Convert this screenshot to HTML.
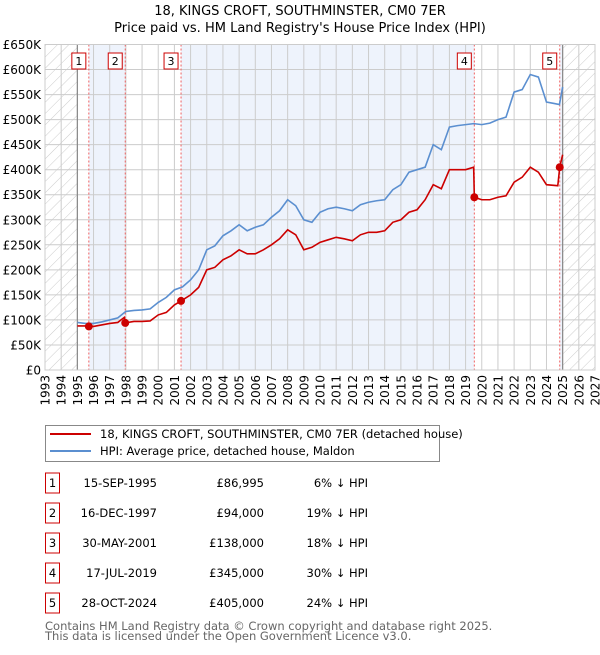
<!DOCTYPE html>
<html><head><meta charset="utf-8"><style>
body{margin:0;background:#fff;width:600px;height:650px;overflow:hidden;font-family:"Liberation Sans","DejaVu Sans",sans-serif}
text{font-family:"DejaVu Sans","Liberation Sans",sans-serif}
</style></head><body>
<svg id="chart" width="600" height="650" xmlns="http://www.w3.org/2000/svg">
<defs><pattern id="hatch" width="8" height="8" patternUnits="userSpaceOnUse" patternTransform="rotate(45)"><line x1="0" y1="0" x2="0" y2="8" stroke="#ccc" stroke-width="1"/></pattern></defs>
<text x="300" y="15" text-anchor="middle" font-size="13">18, KINGS CROFT, SOUTHMINSTER, CM0 7ER</text>
<text x="300" y="32" text-anchor="middle" font-size="13">Price paid vs. HM Land Registry's House Price Index (HPI)</text>
<g id="plot"></g>
<g>
<rect x="45.5" y="425.5" width="394" height="36" fill="#fff" stroke="#888"/>
<line x1="50" y1="434" x2="91" y2="434" stroke="#cc0000" stroke-width="2"/>
<text x="100" y="438" font-size="11.5">18, KINGS CROFT, SOUTHMINSTER, CM0 7ER (detached house)</text>
<line x1="50" y1="451" x2="91" y2="451" stroke="#5b8fd0" stroke-width="2"/>
<text x="100" y="455" font-size="11.5">HPI: Average price, detached house, Maldon</text>
</g>
<g id="table" font-size="11.5"></g>
<text x="45" y="630" font-size="11.5" fill="#666">Contains HM Land Registry data © Crown copyright and database right 2025.</text>
<text x="45" y="640" font-size="11.5" fill="#666">This data is licensed under the Open Government Licence v3.0.</text>
</svg>
<script>
const hpiYears=[1995,1995.5,1996,1996.5,1997,1997.5,1998,1998.5,1999,1999.5,2000,2000.5,2001,2001.5,2002,2002.5,2003,2003.5,2004,2004.5,2005,2005.5,2006,2006.5,2007,2007.5,2008,2008.5,2009,2009.5,2010,2010.5,2011,2011.5,2012,2012.5,2013,2013.5,2014,2014.5,2015,2015.5,2016,2016.5,2017,2017.5,2018,2018.5,2019,2019.5,2020,2020.5,2021,2021.5,2022,2022.5,2023,2023.5,2024,2024.5,2024.8,2025];
const hpiValues=[95,93,93,96,100,104,117,119,120,122,135,145,160,166,180,200,240,248,268,278,290,278,285,290,305,318,340,328,300,295,315,322,325,322,318,330,335,338,340,360,370,395,400,405,450,440,485,488,490,492,490,493,500,505,555,560,590,585,535,532,530,565];
const priceYears=[1995,1995.5,1995.71,1996,1996.5,1997,1997.5,1997.9,1997.96,1998.5,1999,1999.5,2000,2000.5,2001,2001.41,2002,2002.5,2003,2003.5,2004,2004.5,2005,2005.5,2006,2006.5,2007,2007.5,2008,2008.5,2009,2009.5,2010,2010.5,2011,2011.5,2012,2012.5,2013,2013.5,2014,2014.5,2015,2015.5,2016,2016.5,2017,2017.5,2018,2018.5,2019,2019.5,2019.54,2020,2020.5,2021,2021.5,2022,2022.5,2023,2023.5,2024,2024.7,2024.82,2025];
const priceValues=[88,88,87,87,90,93,95,105,94,97,97,98,110,115,130,138,150,165,200,205,220,228,240,232,232,240,250,262,280,270,240,245,255,260,265,262,258,270,275,275,278,295,300,315,320,340,370,362,400,400,400,405,345,340,340,345,348,375,385,405,395,370,368,405,430];
const saleLabels=["1","2","3","4","5"];
const saleYears=[1995.71,1997.96,2001.41,2019.54,2024.82];
const salePrices=[86995,94000,138000,345000,405000];
const saleDates=["15-SEP-1995","16-DEC-1997","30-MAY-2001","17-JUL-2019","28-OCT-2024"];
const salePriceText=["£86,995","£94,000","£138,000","£345,000","£405,000"];
const saleHpiText=["6% ↓ HPI","19% ↓ HPI","18% ↓ HPI","30% ↓ HPI","24% ↓ HPI"];
const yTicks=[0,50,100,150,200,250,300,350,400,450,500,550,600,650];
const yTickLabels=["£0","£50K","£100K","£150K","£200K","£250K","£300K","£350K","£400K","£450K","£500K","£550K","£600K","£650K"];
const xTicks=[1993,1994,1995,1996,1997,1998,1999,2000,2001,2002,2003,2004,2005,2006,2007,2008,2009,2010,2011,2012,2013,2014,2015,2016,2017,2018,2019,2020,2021,2022,2023,2024,2025,2026,2027];

const X0=45,X1=595,Y0=370,Y1=44.5;
const xs=y=>X0+(y-1993)/(2027-1993)*(X1-X0);
const ys=v=>Y0-v/650*(Y0-Y1);
const NS="http://www.w3.org/2000/svg";
const plot=document.getElementById('plot');
function mk(tag,attrs,parent){const e=document.createElementNS(NS,tag);for(const k in attrs)e.setAttribute(k,attrs[k]);(parent||plot).appendChild(e);return e;}
// shaded bands
const bandEdges=[saleYears[0],saleYears[1],saleYears[2],saleYears[3],saleYears[4],2025];
for(let i=0;i<bandEdges.length-1;i+=2){
 const r=mk('rect',{x:xs(bandEdges[i]),y:Y1,width:xs(bandEdges[i+1])-xs(bandEdges[i]),height:Y0-Y1,fill:'#eef3fc'});
 
 
}
// hatch
const h1=mk('rect',{x:xs(1993),y:Y1,width:xs(1995)-xs(1993),height:Y0-Y1,fill:'url(#hatch)'});


const h2=mk('rect',{x:xs(2025),y:Y1,width:xs(2027)-xs(2025),height:Y0-Y1,fill:'url(#hatch)'});


// grid
yTicks.forEach((t,i)=>{
 const l=mk('line',{x1:X0,x2:X1,y1:ys(t),y2:ys(t),stroke:'#ccc','stroke-width':1});
 
 
 const tx=mk('text',{x:X0-4,y:ys(t)+4.5,'text-anchor':'end','font-size':12});
 tx.textContent=yTickLabels[i];
 
 
});
xTicks.forEach(t=>{
 const l=mk('line',{x1:xs(t),x2:xs(t),y1:Y1,y2:Y0,stroke:'#ccc','stroke-width':1});
 
 
 const tx=mk('text',{x:0,y:0,'text-anchor':'end','font-size':12,transform:`translate(${xs(t)+4.5},${Y0+5}) rotate(-90)`});
 tx.textContent=t;
 
 
});
[1995,2025].forEach(t=>{
 const l=mk('line',{x1:xs(t),x2:xs(t),y1:Y1,y2:Y0,stroke:'#888','stroke-width':1.2});
 
 
});
// sale lines
saleYears.forEach((s,i)=>{
 const l=mk('line',{x1:xs(s),x2:xs(s),y1:Y1,y2:Y0,stroke:'#f06060','stroke-width':1,'stroke-dasharray':'2,2'});
 
 
});
// series
const hp=mk('polyline',{points:hpiYears.map((y,i)=>xs(y)+','+ys(hpiValues[i])).join(' '),fill:'none',stroke:'#5b8fd0','stroke-width':1.6});


const pp=mk('polyline',{points:priceYears.map((y,i)=>xs(y)+','+ys(priceValues[i])).join(' '),fill:'none',stroke:'#cc0000','stroke-width':1.6});


saleYears.forEach((s,i)=>{
 const c=mk('circle',{cx:xs(s),cy:ys(salePrices[i]/1000),r:4,fill:'#cc0000'});
 
 
 const b=mk('rect',{x:xs(s)-17,y:53,width:14,height:16,fill:'#fff',stroke:'#cc0000'});
 
 
 const t=mk('text',{x:xs(s)-10,y:65,'text-anchor':'middle','font-size':11});
 t.textContent=saleLabels[i];
 
 
});
const fr=mk('rect',{x:X0,y:Y1,width:X1-X0,height:Y0-Y1,fill:'none',stroke:'#ccc'});


// table
const tb=document.getElementById('table');
saleLabels.forEach((lab,i)=>{
 const cy=483+i*30;
 const g=mk('g',{},tb);
 
 
 mk('rect',{x:45.5,y:cy-10,width:14,height:20,fill:'#fff',stroke:'#cc0000'},g);
 const a=mk('text',{x:52.5,y:cy+4,'text-anchor':'middle'},g);a.textContent=lab;
 const d=mk('text',{x:127,y:cy+4,'text-anchor':'end'},g);d.textContent=saleDates[i];
 d.setAttribute('x',157);
 const p=mk('text',{x:264,y:cy+4,'text-anchor':'end'},g);p.textContent=salePriceText[i];
 const hh=mk('text',{x:368,y:cy+4,'text-anchor':'end'},g);hh.textContent=saleHpiText[i];
});
</script>
</body></html>
